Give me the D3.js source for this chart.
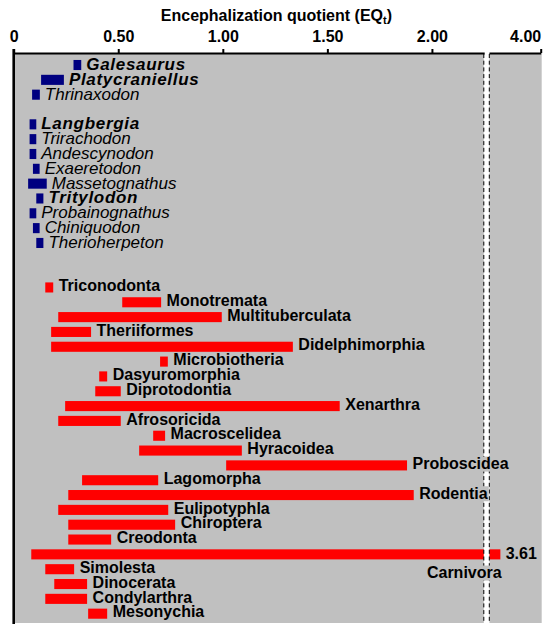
<!DOCTYPE html>
<html>
<head>
<meta charset="utf-8">
<script src="https://cdn.jsdelivr.net/npm/d3@7"></script>
<style>
  html, body { margin: 0; padding: 0; background: #fff; }
  svg { display: block; }
  text { font-family: "Liberation Sans", Arial, sans-serif; }
</style>
</head>
<body>
<svg id="chart" width="560" height="629"></svg>
<script>
// ---------- DATA ----------
const basalTaxa = ["Galesaurus", "Platycraniellus", "Thrinaxodon"];
const basalLow  = [0.286, 0.131, 0.088];
const basalHigh = [0.323, 0.240, 0.125];

const derivedTaxa = ["Langbergia", "Trirachodon", "Andescynodon", "Exaeretodon", "Massetognathus",
                     "Tritylodon", "Probainognathus", "Chiniquodon", "Therioherpeton"];
const derivedLow  = [0.076, 0.076, 0.076, 0.092, 0.069, 0.108, 0.076, 0.092, 0.108];
const derivedHigh = [0.108, 0.108, 0.108, 0.124, 0.158, 0.142, 0.108, 0.124, 0.142];

const boldTaxa = ["Galesaurus", "Platycraniellus", "Langbergia", "Tritylodon"];

const mammalTaxa = ["Triconodonta", "Monotremata", "Multituberculata", "Theriiformes", "Didelphimorphia",
  "Microbiotheria", "Dasyuromorphia", "Diprotodontia", "Xenarthra", "Afrosoricida", "Macroscelidea",
  "Hyracoidea", "Proboscidea", "Lagomorpha", "Rodentia", "Eulipotyphla", "Chiroptera", "Creodonta",
  "Carnivora", "Simolesta", "Dinocerata", "Condylarthra", "Mesonychia"];
const mammalLow  = [0.151, 0.519, 0.213, 0.179, 0.179, 0.700, 0.409, 0.390, 0.246, 0.213, 0.667,
  0.600, 1.016, 0.327, 0.261, 0.213, 0.261, 0.261, 0.084, 0.151, 0.194, 0.151, 0.356];
const mammalHigh = [0.189, 0.705, 0.995, 0.370, 1.335, 0.737, 0.447, 0.512, 1.559, 0.512, 0.724,
  1.091, 1.881, 0.691, 1.913, 0.739, 0.772, 0.466, 3.61, 0.289, 0.351, 0.351, 0.447];

const tickValuesLeft  = [0, 0.5, 1, 1.5, 2];
const tickLabelsLeft  = ["0", "0.50", "1.00", "1.50", "2.00"];
const tickValuesRight = [4];
const tickLabelsRight = ["4.00"];
const breakFrom = 2.25, breakTo = 3.5, axisMax = 4;
const valueLabelTaxon = "Carnivora";

// ---------- LAYOUT ----------
const svg = d3.select("#chart");
const plotLeft = 13.7, breakLeftPx = 484.2, breakRightPx = 489, plotRight = 541.7;
const axisY = 53, plotBottom = 623;

const xL = d3.scaleLinear().domain([0, breakFrom]).range([plotLeft, breakLeftPx]);
const xR = d3.scaleLinear().domain([breakTo, axisMax]).range([breakRightPx, 540.7]);
const xv = v => v <= breakFrom ? xL(v) : xR(v);

// rows: basal, gap, derived, gap, gap, mammals
const rows = [...basalTaxa, "_gap1", ...derivedTaxa, "_gap2", "_gap3", ...mammalTaxa];
const y = d3.scaleBand().domain(rows).range([57.6, 621.1]).paddingInner(0.32).paddingOuter(0.16);

const records = [];
basalTaxa.forEach((n, i) => records.push({name: n, lo: basalLow[i], hi: basalHigh[i], grp: "cyn"}));
derivedTaxa.forEach((n, i) => records.push({name: n, lo: derivedLow[i], hi: derivedHigh[i], grp: "cyn"}));
mammalTaxa.forEach((n, i) => records.push({name: n, lo: mammalLow[i], hi: mammalHigh[i], grp: "mam"}));

// plot background
svg.append("rect").attr("x", plotLeft).attr("y", axisY)
  .attr("width", plotRight - plotLeft).attr("height", plotBottom - axisY)
  .attr("fill", "#c0c0c0");

// bars
svg.append("g").selectAll("rect").data(records).join("rect")
  .attr("x", d => xv(d.lo))
  .attr("y", d => y(d.name))
  .attr("width", d => xv(d.hi) - xv(d.lo))
  .attr("height", y.bandwidth())
  .attr("fill", d => d.grp === "cyn" ? "#000080" : "#ff0000");

// break marker
const bx = (breakLeftPx + breakRightPx) / 2;
svg.append("rect").attr("x", breakLeftPx - 0.4).attr("y", axisY - 2)
  .attr("width", breakRightPx - breakLeftPx + 0.8).attr("height", plotBottom - axisY + 2)
  .attr("fill", "#fff");
[breakLeftPx - 0.4, breakRightPx + 0.3].forEach(xx => {
  svg.append("line").attr("x1", xx).attr("x2", xx)
    .attr("y1", axisY + 1).attr("y2", plotBottom)
    .attr("stroke", "#000").attr("stroke-width", 1).attr("stroke-dasharray", "4,2.7");
});

// labels
const lblG = svg.append("g");
records.forEach(d => {
  const isCyn = d.grp === "cyn";
  const isBold = boldTaxa.includes(d.name);
  const cy = y(d.name) + y.bandwidth() / 2;
  let t;
  if (d.name === valueLabelTaxon) {
    // value label + name below
    lblG.append("text").attr("x", xv(d.hi) + 5.3).attr("y", cy + 4.6)
      .attr("font-size", 16).attr("font-weight", "bold").attr("fill", "#000")
      .text(d3.format(".2f")(d.hi));
    t = lblG.append("text").attr("x", 464.3).attr("y", cy + 23.7)
      .attr("text-anchor", "middle")
      .attr("font-size", 16).attr("font-weight", "bold").attr("fill", "#000")
      .text(d.name);
  } else {
    t = lblG.append("text")
      .attr("x", xv(d.hi) + (isCyn ? 5 : 5.5))
      .attr("y", cy + (isCyn ? 5 : 3.7))
      .attr("font-size", isCyn ? 17 : 16)
      .attr("font-weight", (!isCyn || isBold) ? "bold" : "normal")
      .attr("font-style", isCyn ? "italic" : "normal")
      .attr("letter-spacing", isBold ? 0.7 : 0)
      .attr("fill", "#000")
      .text(d.name);
  }
  const bb = t.node().getBBox();
  if (bb.x < breakRightPx + 2 && bb.x + bb.width > breakLeftPx - 2) {
    lblG.insert("rect", () => t.node())
      .attr("x", bb.x - 1).attr("y", bb.y + 1.5)
      .attr("width", bb.width + 2).attr("height", bb.height - 2)
      .attr("fill", "#c0c0c0");
  }
});

// top axis (left segment)
const axL = d3.axisTop(xL).tickValues(tickValuesLeft)
  .tickFormat((d, i) => tickLabelsLeft[i]).tickSize(4).tickSizeOuter(0).tickPadding(7.5);
const gL = svg.append("g").attr("transform", `translate(0,${axisY})`).call(axL);
const axR = d3.axisTop(xR).tickValues(tickValuesRight)
  .tickFormat((d, i) => tickLabelsRight[i]).tickSize(4).tickSizeOuter(0).tickPadding(7.5);
const gR = svg.append("g").attr("transform", `translate(0,${axisY})`).call(axR);
[gL, gR].forEach(g => {
  g.attr("font-family", null).attr("font-size", null);
  g.select(".domain").attr("stroke-width", 2);
  g.selectAll(".tick line").attr("stroke-width", 2);
  g.selectAll(".tick text").attr("font-size", 16).attr("font-weight", "bold").attr("fill", "#000");
});
gR.selectAll(".tick text").attr("text-anchor", "end").attr("x", 0);

// left axis line
svg.append("line").attr("x1", plotLeft).attr("x2", plotLeft)
  .attr("y1", axisY - 4).attr("y2", plotBottom + 1)
  .attr("stroke", "#000").attr("stroke-width", 2.6);

// title
const title = svg.append("text").attr("x", 276.4).attr("y", 21)
  .attr("text-anchor", "middle").attr("font-size", 16).attr("font-weight", "bold").attr("fill", "#000");
title.append("tspan").text("Encephalization quotient (EQ");
title.append("tspan").attr("font-size", 11).attr("dy", 3).text("t");
title.append("tspan").attr("dy", -3).text(")");
</script>
</body>
</html>
